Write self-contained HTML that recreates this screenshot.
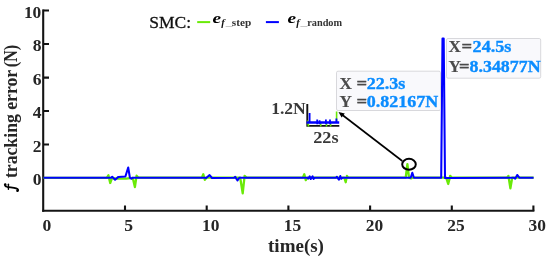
<!DOCTYPE html>
<html><head><meta charset="utf-8">
<style>
html,body{margin:0;padding:0;background:#fff;width:550px;height:257px;overflow:hidden}
svg{display:block;will-change:transform}
text{font-family:"Liberation Serif",serif}
.tk{font-weight:bold;font-size:16px;fill:#262626}
</style></head><body>
<svg width="550" height="257" viewBox="0 0 550 257">
<rect x="0" y="0" width="550" height="257" fill="#fff"/>

<!-- axes -->
<g stroke="#141414" stroke-width="2.1" fill="none">
<path d="M43.2,9.4 V211.8"/>
<path d="M42.2,210.75 H534.4"/>
<!-- y ticks -->
<path d="M43.4,10.5 H49 M43.4,44 H49 M43.4,77.6 H49 M43.4,111 H49 M43.4,144.5 H49 M43.4,178 H49"/>
<!-- x ticks -->
<path d="M125,210.8 V205.5 M206.7,210.8 V205.5 M288.4,210.8 V205.5 M370.1,210.8 V205.5 M451.8,210.8 V205.5 M533.4,210.8 V205.5"/>
</g>

<!-- y tick labels -->
<g class="tk" text-anchor="end">
<text x="41.3" y="17.6" textLength="17.4" lengthAdjust="spacingAndGlyphs">10</text>
<text x="41.6" y="51" textLength="8.8" lengthAdjust="spacingAndGlyphs">8</text>
<text x="41.6" y="84.5" textLength="8.8" lengthAdjust="spacingAndGlyphs">6</text>
<text x="41.6" y="118" textLength="8.8" lengthAdjust="spacingAndGlyphs">4</text>
<text x="41.6" y="151.5" textLength="8.8" lengthAdjust="spacingAndGlyphs">2</text>
<text x="41.6" y="185" textLength="8.8" lengthAdjust="spacingAndGlyphs">0</text>
</g>
<!-- x tick labels -->
<g class="tk" text-anchor="middle">
<text x="46.8" y="230.6" textLength="8.8" lengthAdjust="spacingAndGlyphs">0</text>
<text x="128.6" y="230.6" textLength="8.8" lengthAdjust="spacingAndGlyphs">5</text>
<text x="210.8" y="230.6" textLength="17.4" lengthAdjust="spacingAndGlyphs">10</text>
<text x="292.5" y="230.6" textLength="17.4" lengthAdjust="spacingAndGlyphs">15</text>
<text x="374.4" y="230.6" textLength="17.4" lengthAdjust="spacingAndGlyphs">20</text>
<text x="456" y="230.6" textLength="17.4" lengthAdjust="spacingAndGlyphs">25</text>
<text x="537.3" y="230.6" textLength="17.4" lengthAdjust="spacingAndGlyphs">30</text>
</g>

<!-- axis labels -->
<text x="296" y="251.7" text-anchor="middle" font-weight="bold" font-size="19" fill="#262626">time(s)</text>
<text transform="translate(16.6,0) rotate(-90)" x="-178.1" y="0" font-weight="bold" font-size="19" fill="#262626" textLength="108.3" lengthAdjust="spacingAndGlyphs">tracking error</text>
<text transform="translate(16.6,0) rotate(-90)" x="-67.3" y="0" font-weight="bold" font-size="19" fill="#262626" textLength="22.6" lengthAdjust="spacingAndGlyphs">(N)</text>
<g fill="none" stroke="#000" stroke-linecap="round">
<path d="M5.2,184.6 C4.6,185.6 5.4,186.4 7,186.8 C10,187.4 13.5,187.6 16.2,188.4 C18.4,189.1 18.6,190.3 17.6,190.9" stroke-width="1.7"/>
<path d="M8.4,184.2 L8.4,189.3" stroke-width="1.4"/>
</g>
<circle cx="5.2" cy="184.5" r="1.25" fill="#000"/>
<circle cx="17.4" cy="190.7" r="1.2" fill="#000"/>

<!-- legend -->
<text x="149.3" y="27.5" font-size="17" fill="#111" stroke="#111" stroke-width="0.3" textLength="41.8" lengthAdjust="spacingAndGlyphs">SMC:</text>
<path d="M197.2,22.1 H210.2" stroke="#6aea08" stroke-width="2"/>
<text x="212.6" y="22.8" font-size="15" font-weight="bold" font-style="italic" fill="#000" textLength="8.6" lengthAdjust="spacingAndGlyphs">e</text>
<text x="221.2" y="26.4" font-size="10.5" font-weight="bold" font-style="italic" fill="#111">f</text>
<text x="225.8" y="25.3" font-size="10" fill="#9a9a9a" textLength="6.8" lengthAdjust="spacingAndGlyphs">_</text>
<text x="231.8" y="26.1" font-size="9.6" font-weight="bold" fill="#333" textLength="19.4" lengthAdjust="spacingAndGlyphs">step</text>
<path d="M265.9,22.1 H278.9" stroke="#0000ff" stroke-width="2"/>
<text x="287.6" y="22.8" font-size="15" font-weight="bold" font-style="italic" fill="#000" textLength="8.6" lengthAdjust="spacingAndGlyphs">e</text>
<text x="296.3" y="26.4" font-size="10.5" font-weight="bold" font-style="italic" fill="#111">f</text>
<text x="300.4" y="25.3" font-size="10" fill="#9a9a9a" textLength="6.8" lengthAdjust="spacingAndGlyphs">_</text>
<text x="307.2" y="25.6" font-size="9.6" font-weight="bold" fill="#333" textLength="34.9" lengthAdjust="spacingAndGlyphs">random</text>

<!-- green trace -->
<path transform="translate(0,-0.3)" fill="none" stroke="#6aea08" stroke-width="2.3" stroke-linejoin="round" d="
M43.5,178.2 L106.8,178.2 L108.4,175.6 L110.2,183.3 L112,178.4 L118,179 L126,179 L132.8,178.2 L134.9,187.4 L136.6,176 L138.5,178
L201.8,178 L203.3,174.6 L204.8,180.1 L206.3,178 L240.2,178 L242.7,193.6 L244.6,176.2 L246.5,178
L302.8,178 L304.3,174.6 L305.8,180.4 L307.2,178 L344.3,178 L345.7,182.5 L346.9,176.2 L348.3,178
L405.7,178 L407.4,164.4 L409,178 L411,178.6 L413,178 L446.2,178 L448.2,184.3 L450.2,176.2 L452,178
L507,178 L508.4,176.2 L510.4,188.6 L512.2,178 L533.6,178"/>

<!-- blue trace -->
<path transform="translate(0,-0.3)" fill="none" stroke="#0000ff" stroke-width="2.05" stroke-linejoin="round" d="
M43.5,178 L111,178 L112.2,177 L115.1,180 L118.4,177.2 L125.4,176.8 L128.2,167.8 L129.9,178 L131.4,179 L133,178
L205.2,178 L206.2,178.4 L209.6,175.4 L212,178.3 L234.2,178 L235.2,177.2 L237.5,180.8 L239.3,178
L307.4,178 L308.2,178.9 L309.7,176.7 L310.8,179.3 L312.6,176.7 L313.6,179.3 L314.6,178
L336,178 L336.9,177.1 L338.9,179.9 L340.3,176.3 L341.3,179.1 L342.5,178
L410.7,178 L412.3,173 L413.9,178 L441.2,178 L442.5,38.7 L443.7,38.7 L445,178.3 L447,178.2
L513.8,178 L515.2,179 L517.2,175.3 L519.3,178 L533.6,178"/>

<!-- ellipse + arrow -->
<ellipse cx="409" cy="164.3" rx="6.8" ry="5.45" fill="none" stroke="#000" stroke-width="2"/>
<path d="M402.3,161 L340.5,113.5" stroke="#000" stroke-width="1.6"/>
<path d="M338.5,112 L344.8,113.6 L341.6,117.6 Z" fill="#000"/>

<!-- inset -->
<path d="M307.3,104 V126.6 M306.4,125.9 H339.3" stroke="#141414" stroke-width="1.9" fill="none"/>
<path fill="none" stroke="#6aea08" stroke-width="1.6" d="M307.6,120.5 L308.6,126.5 M320.7,123 L320.7,126.6 M326.5,123 L326.5,126.6 M330.6,123 L330.6,126.6 M336.6,122 L336.6,111.5"/>
<path fill="none" stroke="#0000ff" stroke-width="2.6" d="M306.6,122.5 H339.2"/>
<path fill="none" stroke="#0000ff" stroke-width="1.8" d="M309.6,122.5 V113.1 M317.2,124.2 V119.4 M319.6,124.2 V120.2 M325.9,124.2 V119.6 M330,124.2 V119.6 M336.4,123 V118.6"/>
<text x="271.2" y="113.8" font-weight="bold" font-size="17" fill="#383838" textLength="34.6" lengthAdjust="spacingAndGlyphs">1.2N</text>
<text x="313.2" y="143" font-weight="bold" font-size="17" fill="#383838" textLength="25.4" lengthAdjust="spacingAndGlyphs">22s</text>

<!-- datatip 1 -->
<rect x="336.5" y="71.2" width="104" height="39.3" rx="1.5" fill="#f9f9fc" stroke="#d8d8dc" stroke-width="1"/>
<g font-weight="bold" font-size="16">
<text x="339.5" y="88.6" fill="#4a4a4a" stroke="#4a4a4a" stroke-width="0.15" textLength="12.4" lengthAdjust="spacingAndGlyphs">X</text>
<text x="356.6" y="88.6" fill="#4a4a4a" stroke="#4a4a4a" stroke-width="0.35" textLength="10.6" lengthAdjust="spacingAndGlyphs">=</text>
<text x="366.8" y="88.6" fill="#0a8cff" stroke="#0a8cff" stroke-width="0.35" textLength="38.6" lengthAdjust="spacingAndGlyphs">22.3s</text>
<text x="339.5" y="107.1" fill="#4a4a4a" stroke="#4a4a4a" stroke-width="0.15" textLength="12.4" lengthAdjust="spacingAndGlyphs">Y</text>
<text x="356.6" y="107.1" fill="#4a4a4a" stroke="#4a4a4a" stroke-width="0.35" textLength="10.6" lengthAdjust="spacingAndGlyphs">=</text>
<text x="366.8" y="107.1" fill="#0a8cff" stroke="#0a8cff" stroke-width="0.35" textLength="71.4" lengthAdjust="spacingAndGlyphs">0.82167N</text>
</g>
<!-- datatip 2 -->
<rect x="446.5" y="38.5" width="94.2" height="39.7" rx="1.5" fill="#f9f9fc" stroke="#d8d8dc" stroke-width="1"/>
<g font-weight="bold" font-size="16">
<text x="448.6" y="52.4" fill="#4a4a4a" stroke="#4a4a4a" stroke-width="0.15" textLength="12.4" lengthAdjust="spacingAndGlyphs">X</text>
<text x="461.6" y="52.4" fill="#4a4a4a" stroke="#4a4a4a" stroke-width="0.35" textLength="10.6" lengthAdjust="spacingAndGlyphs">=</text>
<text x="472.6" y="52.4" fill="#0a8cff" stroke="#0a8cff" stroke-width="0.35" textLength="38.8" lengthAdjust="spacingAndGlyphs">24.5s</text>
<text x="448.6" y="72.4" fill="#4a4a4a" stroke="#4a4a4a" stroke-width="0.15" textLength="12.4" lengthAdjust="spacingAndGlyphs">Y</text>
<text x="459.1" y="72.4" fill="#4a4a4a" stroke="#4a4a4a" stroke-width="0.35" textLength="10.6" lengthAdjust="spacingAndGlyphs">=</text>
<text x="469.6" y="72.4" fill="#0a8cff" stroke="#0a8cff" stroke-width="0.35" textLength="71" lengthAdjust="spacingAndGlyphs">8.34877N</text>
</g>
</svg>
</body></html>
